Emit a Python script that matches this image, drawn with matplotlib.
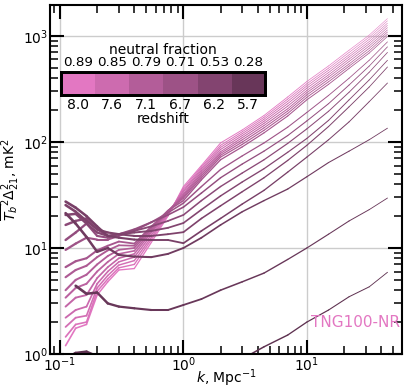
import numpy as np
import matplotlib.pyplot as plt
from matplotlib.collections import LineCollection
from matplotlib.colors import to_rgb

# wavenumbers, Mpc^-1
k = [0.111, 0.134, 0.164, 0.2, 0.244, 0.3, 0.4, 0.55, 0.75, 1.0,
     1.4, 2.0, 3.0, 4.5, 7.0, 10.0, 15.0, 22.0, 32.0, 45.0]

# snapshot redshifts, lowest first (darkest line first)
redshift = [5.5, 5.7, 5.85, 6.0, 6.1, 6.2, 6.35, 6.5, 6.7,
            6.85, 7.0, 7.1, 7.25, 7.4, 7.55, 7.7, 7.85, 8.0]

nan = np.nan
power = [
    [0.9, 1.02, 1.05, 0.95, 0.8, 0.7, 0.6, 0.55, 0.55, 0.6, 0.65, 0.75, 0.9, 1.17, 1.51, 2.0, 2.6, 3.47, 4.3, 5.9],
    [nan, 4.4, 3.7, 3.8, 3.0, 2.8, 2.7, 2.6, 2.6, 2.9, 3.3, 4.0, 4.8, 5.8, 7.8, 10, 13.5, 18, 23, 29.6],
    [21.3, 17, 12.7, 9.2, 10, 8.6, 8.3, 8.2, 8.8, 10, 12.5, 16.5, 22, 28, 36, 47, 64, 82, 105, 135],
    [27.4, 24, 20, 16, 13, 12.5, 12, 11.9, 11.9, 11.1, 14.5, 19, 26, 35, 52, 72, 105, 155, 240, 360],
    [25.4, 22, 18, 15, 14, 13.5, 13, 13, 13.5, 14.1, 19, 25, 34, 46, 67, 93, 140, 215, 330, 510],
    [20.5, 21, 17, 14, 13, 13.5, 14, 14.5, 15.5, 17.2, 23, 31, 42, 56, 80, 108, 160, 250, 385, 590],
    [16.5, 18, 19, 15, 13, 13.5, 14.5, 16, 18, 20.5, 28, 38, 51, 68, 97, 133, 195, 295, 455, 700],
    [11.9, 14, 17, 13, 12.5, 13.5, 15, 17.5, 20.5, 24.3, 33, 46, 62, 82, 115, 158, 230, 345, 520, 790],
    [9.6, 11, 12.5, 12, 12, 13, 14.5, 17.5, 21.5, 26.5, 38, 55, 74, 98, 138, 190, 275, 400, 590, 880],
    [6.6, 7.5, 8.0, 9.5, 10.5, 11.5, 11, 16, 22.5, 28, 44, 68, 90, 122, 176, 250, 350, 495, 690, 990],
    [5.3, 6.2, 6.8, 8.2, 9.5, 10.6, 10.5, 15.5, 22.5, 29.5, 46, 72, 95, 129, 186, 264, 370, 520, 725, 1040],
    [4.0, 5.0, 5.6, 7.0, 8.4, 9.6, 10, 15, 22.5, 30.5, 48, 75, 100, 136, 196, 278, 390, 545, 765, 1090],
    [3.4, 4.2, 4.6, 6.0, 7.4, 8.8, 9.4, 14.5, 22, 31.5, 50, 78, 105, 143, 206, 292, 410, 575, 805, 1140],
    [2.8, 3.4, 3.6, 5.2, 6.6, 8.0, 8.8, 14, 22, 32.5, 52, 81, 110, 150, 218, 306, 430, 605, 845, 1200],
    [2.2, 2.6, 2.8, 4.6, 6.0, 7.4, 8.2, 13.3, 21.5, 34, 54, 85, 115, 157, 230, 322, 452, 635, 885, 1260],
    [1.8, 2.2, 2.3, 4.2, 5.5, 6.9, 7.6, 12.6, 21, 35, 56, 89, 120, 164, 242, 338, 475, 665, 930, 1320],
    [1.45, 1.9, 2.0, 3.9, 5.1, 6.5, 7.0, 12, 20.5, 36.5, 58, 93, 125, 171, 254, 354, 498, 700, 975, 1390],
    [1.2, 1.75, 1.9, 3.6, 4.8, 6.2, 6.4, 11.3, 20, 38, 60, 98, 130, 178, 266, 372, 522, 735, 1020, 1460],
]

# legend cells
legend_z = [8.0, 7.6, 7.1, 6.7, 6.2, 5.7]
legend_xhi = [0.89, 0.85, 0.79, 0.71, 0.53, 0.28]

pink = np.array(to_rgb('#e377c2'))


def darkness(z):
    f = 0.46 + 0.54 * (z - 5.7) / 2.3
    return min(max(f, 0.4), 1.0)


fig = plt.figure(figsize=(4.07, 3.92), dpi=100)
ax = fig.add_axes([50 / 407, 38 / 392, 352 / 407, 349 / 392])
ax.set_xscale('log')
ax.set_yscale('log')
ax.set_xlim(0.083, 59)
ax.set_ylim(1, 1960)
ax.grid(True, which='major', color='#cccccc', lw=1)
ax.set_axisbelow(True)

# pink (high z) lines first, dark ones on top; lines thin out towards high k
for z, p in reversed(list(zip(redshift, power))):
    f = darkness(z)
    pts = np.column_stack([k, p])
    segs = np.stack([pts[:-1], pts[1:]], axis=1)
    lw0 = 1.2 + 0.8 * (1 - f) / 0.54
    widths = np.linspace(lw0, lw0 * 0.3, len(segs))
    lc = LineCollection(segs, colors=[pink * f], linewidths=widths,
                        capstyle='round', joinstyle='round')
    ax.add_collection(lc)

ax.tick_params(which='both', direction='in', top=True, right=True, labelsize=10)
ax.tick_params(axis='x', which='both', pad=1)
ax.tick_params(axis='y', which='both', pad=1.5)
ax.tick_params(which='major', length=10, width=1.5)
ax.tick_params(which='minor', length=6, width=1.1)
for s in ax.spines.values():
    s.set_linewidth(1.5)
ax.set_xlabel(r'$k$, Mpc$^{-1}$', fontsize=10)
ax.xaxis.set_label_coords(0.5, -0.038)
ax.set_ylabel(r'$\overline{T_b}^2\Delta_{21}^2$, mK$^2$', fontsize=10, labelpad=1)

ax.text(0.995, 0.09, 'TNG100-NR', transform=ax.transAxes, ha='right', va='center',
        color='#e377c2', fontsize=11)

# colour key: redshift below, neutral fraction above
cax = ax.inset_axes([0.031, 0.742, 0.58, 0.066])
cells = np.array([[pink * darkness(z) for z in legend_z]])
cax.imshow(cells, aspect='auto', extent=(-0.5, len(legend_z) - 0.5, -0.5, 0.5))
cax.set_yticks([])
cax.set_xticks(range(len(legend_z)))
cax.set_xticklabels([f'{z:.1f}' for z in legend_z])
cax.tick_params(length=0, labelsize=10, pad=2)
cax.set_xlabel('redshift', fontsize=10, labelpad=0)
top = cax.twiny()
top.set_xlim(cax.get_xlim())
top.set_xticks(range(len(legend_xhi)))
top.set_xticklabels([f'{x:.2f}' for x in legend_xhi])
top.tick_params(length=0, labelsize=9.7, pad=2)
top.set_xlabel('neutral fraction', fontsize=10, labelpad=1.5)
for a in (cax, top):
    for s in a.spines.values():
        s.set_linewidth(2)

fig.savefig('out.png', dpi=100)
